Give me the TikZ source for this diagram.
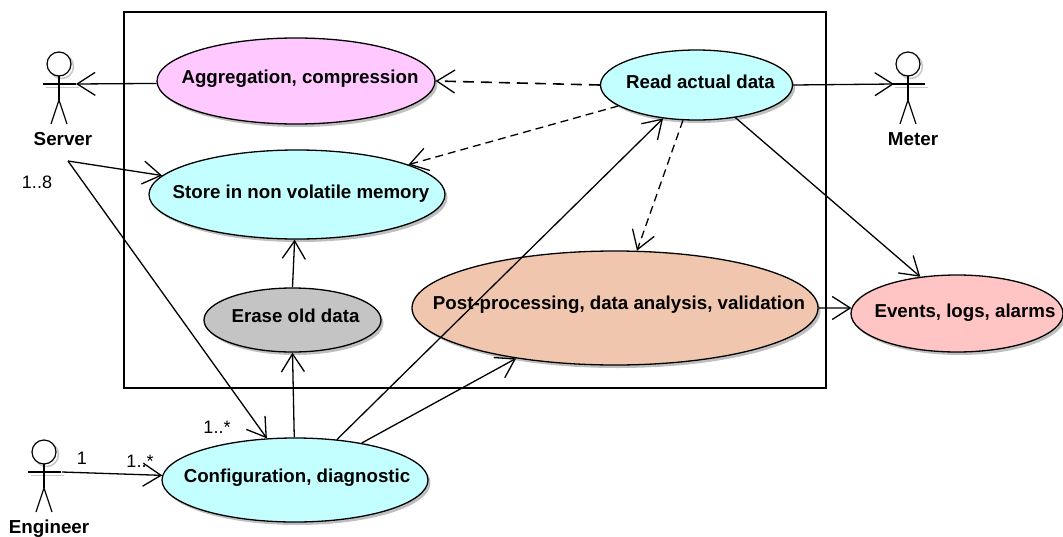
\documentclass[tikz,border=0pt]{standalone}
\usepackage{fontspec}
\setmainfont{Liberation Sans}
\usetikzlibrary{arrows.meta,shapes.geometric,shadows}
\definecolor{cyanuse}{HTML}{C4FFFF}
\definecolor{pinkuse}{HTML}{FFC8FF}
\definecolor{greyuse}{HTML}{C4C4C4}
\definecolor{peachuse}{HTML}{F0C6AE}
\definecolor{rosuse}{HTML}{FFC4C4}
\tikzset{
  usecase/.style={ellipse,draw=black,line width=1.3pt,inner xsep=-110pt,inner ysep=0pt,
    minimum width=2*#1,drop shadow={shadow xshift=2.5pt,shadow yshift=-3pt,opacity=.5},
    font=\bfseries\fontsize{18.7}{22}\selectfont},
  rel/.style={draw=black,line width=1.3pt,-{Straight Barb[length=18pt,width=23pt,line width=1.3pt]}},
  dep/.style={rel,dash pattern=on 8pt off 5pt},
  depheavy/.style={rel,line width=1.6pt,dash pattern=on 11pt off 7pt},
  stick/.style={draw=black,line width=1.2pt},
  stickshadow/.style={draw=black!22,line width=1.5pt},
  role/.style={font=\bfseries\fontsize{18.8}{22}\selectfont},
  mult/.style={font=\fontsize{18}{20}\selectfont},
  frame/.style={draw=black,line width=1.4pt}
}
\newcommand{\stickman}[2]{%
  \draw[stickshadow] (#1+2.5,#2+2.5) circle (12pt);
  \draw[stickshadow] (#1-13,#2+23.5) -- (#1+20,#2+23.5);
  \draw[stick,fill=white] (#1,#2) circle (12pt);
  \draw[stick] (#1,#2+12) -- (#1,#2+36);
  \draw[stick] (#1-16,#2+20) -- (#1+17,#2+20);
  \draw[stick] (#1-8,#2+60) -- (#1,#2+36) -- (#1+8,#2+60);
}
\begin{document}
\begin{tikzpicture}[x=1pt,y=-1pt]
\useasboundingbox (0,0) rectangle (1063,536);
\node[frame,draw,minimum width=702pt,minimum height=376pt,inner sep=0pt] (system) at (475,200) {};
\node[usecase=139pt,minimum height=86pt,fill=pinkuse] (agg) at (296,81) {\hspace*{8pt}\raisebox{8pt}{Aggregation, compression}};
\node[usecase=148pt,minimum height=89pt,fill=cyanuse] (store) at (297,194.5) {\hspace*{8pt}\raisebox{6pt}{Store in non volatile memory}};
\node[usecase=88.5pt,minimum height=64pt,fill=greyuse] (erase) at (292.5,320) {\hspace*{6pt}\raisebox{8pt}{Erase old data}};
\node[usecase=203pt,minimum height=114pt,fill=peachuse] (post) at (615,308) {\hspace*{8pt}\raisebox{10pt}{Post-processing, data analysis, validation}};
\node[usecase=96pt,minimum height=70pt,fill=cyanuse] (read) at (696.5,85) {\hspace*{8pt}\raisebox{6pt}{Read actual data}};
\node[usecase=106pt,minimum height=77pt,fill=rosuse] (events) at (957,313.5) {\hspace*{16pt}\raisebox{6pt}{Events, logs, alarms}};
\node[usecase=133pt,minimum height=84pt,fill=cyanuse] (config) at (295,480) {\hspace*{4pt}\raisebox{8pt}{Configuration, diagnostic}};
\stickman{59}{64}
\stickman{908}{64}
\stickman{44}{452}
\node[role] (server) at (63,139) {Server};
\node[role] (meter) at (913,139) {Meter};
\node[role] (engineer) at (49,529) {Engineer};
\node[mult] (m18) at (37,182) {1..8};
\node[mult] (m1) at (82,458) {1};
\node[mult] (m1s) at (140,461) {1..*};
\node[mult] (m1t) at (217,427) {1..*};
\coordinate (serverhand) at (76,84);
\coordinate (meterhand) at (894,84);
\coordinate (enghand) at (62,472);
\coordinate (fork) at (68,161);
\path[rel] (agg.181) -- (serverhand);
\path[depheavy] (read.180) -- (agg.0);
\path[dep] (read.195.6) -- (store.15);
\path[dep] (read.249.5) -- (post.69);
\path[rel] (read.0) -- (meterhand);
\path[rel] (read.-40.6) -- (events.135);
\path[rel] (post.0) -- (events.177);
\path[rel] (erase.90) -- (store.267);
\path[rel] (config.91) -- (erase.270);
\path[rel] (config.29) -- (post.207);
\path[rel] (config.44) -- (read.225);
\path[rel] (enghand) -- (config.178);
\path[rel] (fork) -- (store.172.3);
\path[rel] (fork) -- (config.124.6);
\end{tikzpicture}
\end{document}
